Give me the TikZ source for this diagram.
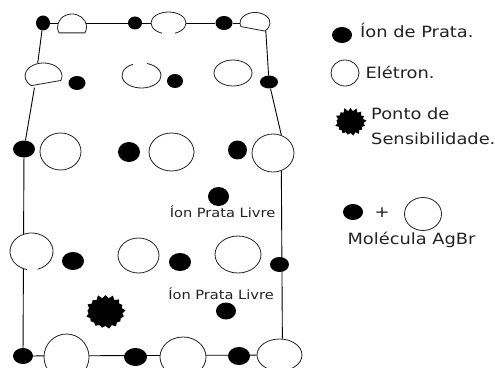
\documentclass[tikz,border=0pt]{standalone}
\usepackage{fontspec}
\setmainfont[FakeStretch=1.15]{DejaVu Sans}
\usetikzlibrary{positioning,backgrounds,shapes.geometric,shapes.symbols}
\definecolor{ink}{HTML}{222222}
\tikzset{
  ion/.style 2 args={ellipse,fill=black,inner sep=0pt,minimum width=#1pt,minimum height=#2pt},
  electron/.style 2 args={ellipse,draw=ink,line width=0.8pt,fill=white,inner sep=0pt,minimum width=#1pt,minimum height=#2pt},
  hollow/.style 2 args={ellipse,fill=white,inner sep=0pt,minimum width=#1pt,minimum height=#2pt},
  rim/.style={draw=ink,line width=0.8pt},
  wall/.style={black,line width=0.9pt},
  spot/.style={starburst,starburst points=17,starburst point height=4pt,random starburst=11,fill=black,inner sep=0pt},
  caption/.style={font=\fontsize{12.7}{14}\selectfont,text=ink,inner sep=0pt},
  keytext/.style={font=\fontsize{15.5}{25}\selectfont,text=ink,inner sep=0pt,align=left}
}
% open outline of an electron: centre, start angle, end angle, radii
\newcommand{\rimarc}[5]{\draw[rim] (#1) ++(#2:#4pt and #5pt) arc[start angle=#2,end angle=#3,x radius=#4pt,y radius=#5pt]}

\begin{document}
\begin{tikzpicture}[x=1pt,y=1pt]
    \clip (0,0) rectangle (495,367);
    % top row
    \node[ion={14}{15}] (ionA) at (43,344) {};
    \node[hollow={29}{26}] (elecA) at (72,340) {};
    \node[ion={14}{13}] (ionB) at (135,344) {};
    \node[hollow={35}{22}] (elecB) at (168.5,344) {};
    \node[ion={17}{14}] (ionC) at (224,344) {};
    \node[hollow={30}{21}] (elecC) at (255,344) {};
    % second row
    \node[hollow={37}{26}] (elecD) at (43.5,291) {};
    \node[ion={17}{14}] (ionD) at (77,284) {};
    \node[hollow={39}{25}] (elecE) at (141.5,291.5) {};
    \node[ion={16}{14}] (ionE) at (175,286) {};
    \node[electron={38}{26}] (elecF) at (233,294) {};
    \node[ion={18}{13}] (ionF) at (269,285) {};
    % third row
    \node[ion={22}{17}] (ionG) at (24,218) {};
    \node[electron={41}{37}] (elecG) at (60.5,215.5) {};
    \node[ion={22}{20}] (ionH) at (129,215) {};
    \node[electron={45}{38}] (elecH) at (171.5,215) {};
    \node[ion={19}{19}] (ionI) at (237.5,217) {};
    \node[electron={42}{38}] (elecI) at (273,214) {};
    % free ion
    \node[ion={21}{19}] (freeA) at (218.5,170.5) {};
    \node[caption] (labelA) at (222.5,155) {Íon Prata Livre};
    % fourth row
    \node[hollow={43}{37}] (elecJ) at (31.5,115.5) {};
    \node[ion={22}{18}] (ionJ) at (73,106) {};
    \node[electron={41}{35}] (elecK) at (138.5,111.5) {};
    \node[ion={22}{18}] (ionK) at (180,105) {};
    \node[electron={46}{37}] (elecL) at (238,112.5) {};
    \node[ion={19}{15}] (ionL) at (279.5,102.5) {};
    % sensitivity spot and second free ion
    \node[spot,minimum width=42pt,minimum height=36pt] (spotA) at (105.5,55) {};
    \node[caption] (labelB) at (221,73) {Íon Prata Livre};
    \node[ion={20}{17}] (freeB) at (226,56) {};
    % bottom row
    \node[ion={20}{16}] (ionM) at (23,11) {};
    \node[electron={45}{46}] (elecM) at (66.5,10) {};
    \node[ion={23}{18}] (ionN) at (135.5,10) {};
    \node[electron={46}{40}] (elecN) at (183,10) {};
    \node[ion={22}{18}] (ionO) at (239,11) {};
    \node[electron={45}{32}] (elecO) at (279.5,12) {};
    % crystal edges
    \begin{scope}[on background layer]
      \draw[wall] (ionA) -- (ionB) -- (ionC) -- (elecC);
      \draw[wall] (ionA) -- (elecD.115);
      \draw[wall] (elecD.232) -- (ionG);
      \draw[wall] (ionG) -- (ionM);
      \draw[wall] (elecC.-35) -- (ionF);
      \draw[wall] (ionF) -- (elecI.65);
      \draw[wall] (elecI.-65) -- (elecO.80);
      \draw[wall] (ionM) -- (elecO);
    \end{scope}
    % electrons with broken outlines
    \draw[rim] (elecA) ++(207:14.5pt and 13pt) arc[start angle=207,end angle=-27,x radius=14.5pt,y radius=13pt] -- cycle;
    \rimarc{elecB}{-68}{248}{17.5}{11};
    \draw[rim] (elecC) ++(-50:15pt and 10.5pt) arc[start angle=-50,end angle=200,x radius=15pt,y radius=10.5pt] -- cycle;
    \draw[rim] (elecD) ++(-20:18.5pt and 13pt) arc[start angle=-20,end angle=228,x radius=18.5pt,y radius=13pt] -- cycle;
    \rimarc{elecE}{116}{434}{19.5}{12.5};
    \rimarc{elecJ}{-73}{258}{21.5}{18.5};
    % key
    \node[ion={20}{16}] (keyIon) at (342,332) {};
    \node[keytext,anchor=west] (keyIonText) at (360,337) {Íon de Prata.};
    \node[electron={28}{26}] (keyElec) at (345,294) {};
    \node[keytext,right=6pt of keyElec,yshift=1pt] (keyElecText) {Elétron.};
    \node[spot,minimum width=34pt,minimum height=30pt] (keySpot) at (350.5,245) {};
    \node[keytext,anchor=north west] (keySpotText) at (371,259) {Ponto de\\Sensibilidade.};
    \node[ion={20}{16}] (keyPairIon) at (353,155) {};
    \node[keytext] (keyPlus) at (382,154) {+};
    \node[electron={37}{33}] (keyPairElec) at (423,153) {};
    \node[keytext] (keyPairText) at (411.5,127) {Molécula AgBr};
\end{tikzpicture}
\end{document}
